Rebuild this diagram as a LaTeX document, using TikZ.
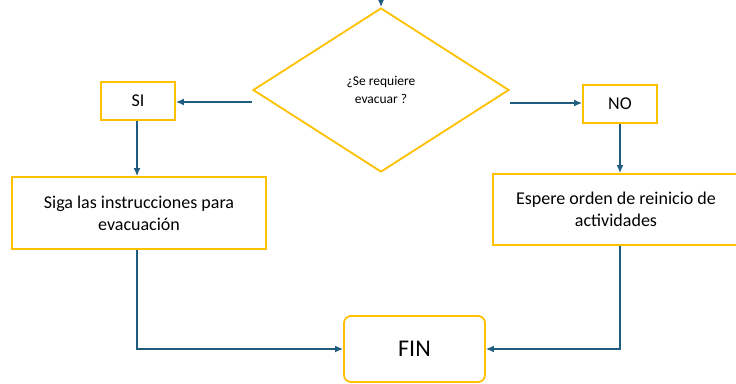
\documentclass[tikz,border=0pt]{standalone}
\usepackage{fontspec}
\setmainfont{Carlito}
\usetikzlibrary{shapes.geometric, arrows.meta}

\definecolor{boxyellow}{RGB}{255,192,0}
\definecolor{flowblue}{RGB}{31,92,128}

\tikzset{
    box/.style={draw=boxyellow, line width=1.8pt, fill=white, inner sep=0pt, align=center, font=\fontsize{18}{22}\selectfont},
    decision/.style={draw=boxyellow, diamond, line width=1.8pt, inner sep=0pt, align=center, font=\fontsize{13.5}{17.5}\selectfont},
    flow/.style={draw=flowblue, line width=1.5pt, -{Latex[length=8pt,width=7pt]}}
}

\begin{document}
\begin{tikzpicture}[x=1pt, y=-1pt]
    \useasboundingbox (0,0) rectangle (736,383);

    % question
    \node[decision, minimum width=256pt, minimum height=164pt] (pregunta) at (381,90) {¿Se requiere\\evacuar ?};
    \coordinate (entrada) at (381,-6);
    \draw[flow] (entrada) -- (pregunta.north);

    % answers
    \node[box, minimum width=74pt, minimum height=38pt] (si) at (138,101) {SI};
    \node[box, minimum width=74pt, minimum height=38pt] (no) at (620,104) {NO};

    % actions
    \node[box, minimum width=254pt, minimum height=72pt] (siga) at (139,213) {Siga las instrucciones para\\evacuación};
    \node[box, minimum width=246pt, minimum height=71pt] (espere) at (616,209.5) {Espere orden de reinicio de\\actividades};

    % end
    \node[box, rounded corners=7pt, minimum width=141pt, minimum height=66pt, font=\fontsize{24}{28}\selectfont] (fin) at (414.5,349) {FIN};

    \draw[flow] ([yshift=-12pt]pregunta.west) -- (si.east |- 0,102);
    \draw[flow] ([yshift=-13pt]pregunta.east) -- (no.west |- 0,103);
    \draw[flow] (si.south -| 137,0) -- (siga.north -| 137,0);
    \draw[flow] (no.south) -- (espere.north -| no.south);
    \draw[flow] (siga.south -| 137,0) |- (fin.west);
    \draw[flow] (espere.south -| no.south) |- (fin.east);
\end{tikzpicture}
\end{document}
